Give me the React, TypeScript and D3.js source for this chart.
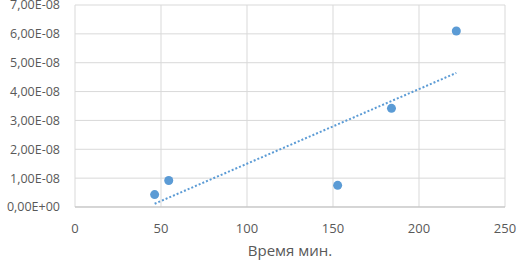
import React from "react";
import * as d3 from "d3";

const timeMin = [46.3, 54.5, 152.7, 184, 221.7];
const values = [0.43e-8, 0.92e-8, 0.75e-8, 3.42e-8, 6.1e-8];
const xTicks = [0, 50, 100, 150, 200, 250];
const yTicks = [0, 1e-8, 2e-8, 3e-8, 4e-8, 5e-8, 6e-8, 7e-8];
const xTitle = "Время мин.";

const W = 517, H = 260;
const FONT = "'Open Sans', 'Liberation Sans', sans-serif";

function fmt(v: number) {
  const s = v.toExponential(2);
  const [m, e] = s.split("e");
  const ex = parseInt(e, 10);
  const sign = ex < 0 ? "-" : "+";
  const abs = Math.abs(ex).toString().padStart(2, "0");
  return m.replace(".", ",") + "E" + sign + abs;
}

export default function App() {
  const x = d3.scaleLinear().domain([0, 250]).range([75, 505]);
  const y = d3.scaleLinear().domain([0, 7e-8]).range([207, 5]);

  const n = timeMin.length;
  const mx = d3.mean(timeMin)!;
  const my = d3.mean(values)!;
  let sxy = 0, sxx = 0;
  for (let i = 0; i < n; i++) {
    sxy += (timeMin[i] - mx) * (values[i] - my);
    sxx += (timeMin[i] - mx) ** 2;
  }
  const slope = sxy / sxx;
  const icpt = my - slope * mx;
  const x0 = d3.min(timeMin)!, x1 = d3.max(timeMin)!;
  const line = d3.line<number>().x((d) => x(d)).y((d) => y(icpt + slope * d));

  return (
    <svg width={W} height={H} style={{ position: "absolute", left: 0, top: 0, background: "#fff" }} fontFamily={FONT}>
      {yTicks.map((t) => (
        <line key={"gy" + t} x1={x(0)} x2={x(250)} y1={y(t)} y2={y(t)} stroke="#d9d9d9" strokeWidth={1} />
      ))}
      {xTicks.map((t) => (
        <line key={"gx" + t} x1={x(t)} x2={x(t)} y1={y(0)} y2={y(7e-8)} stroke="#d9d9d9" strokeWidth={1} />
      ))}
      <line x1={x(0)} x2={x(250)} y1={y(0)} y2={y(0)} stroke="#bfbfbf" strokeWidth={1} />
      {yTicks.map((t) => (
        <text key={"ly" + t} x={60} y={y(t)} dy="0.35em" textAnchor="end" fontSize={12.5} fill="#595959">
          {fmt(t)}
        </text>
      ))}
      {xTicks.map((t) => (
        <text key={"lx" + t} x={x(t)} y={228} dy="0.35em" textAnchor="middle" fontSize={13} fill="#595959">
          {t}
        </text>
      ))}
      <text x={x(125)} y={251} dy="0.35em" textAnchor="middle" fontSize={15} fill="#595959">
        {xTitle}
      </text>
      <path d={line([x0, x1]) || ""} fill="none" stroke="#5b9bd5" strokeWidth={2} strokeDasharray="2,2" />
      {timeMin.map((t, i) => (
        <circle key={"p" + i} cx={x(t)} cy={y(values[i])} r={4.5} fill="#5b9bd5" />
      ))}
    </svg>
  );
}
